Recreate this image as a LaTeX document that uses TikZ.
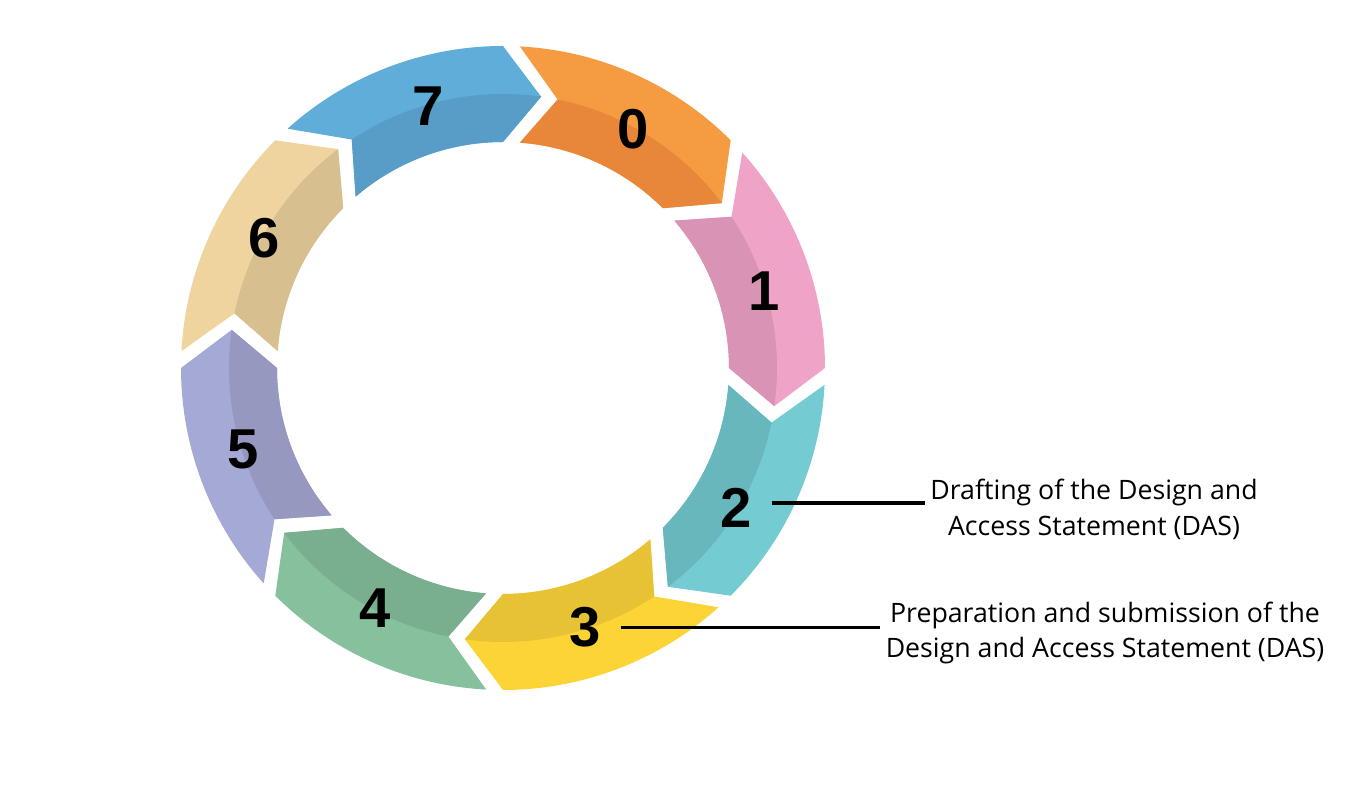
\documentclass[tikz,border=0pt]{standalone}
\usepackage{fontspec}
\setmainfont{Open Sans}
\newfontfamily\numfont{Liberation Sans}
\begin{document}
\begin{tikzpicture}[line cap=round,line join=round,
  numlab/.style={font=\numfont\bfseries\fontsize{16}{18}\selectfont,inner sep=0.2cm},
  notelab/.style={font=\fontsize{7.6}{10.2}\selectfont,align=center,inner sep=0.05cm},
  leader/.style={black,line width=1pt,line cap=butt}]
  \definecolor{s0l}{RGB}{245,156,66}  \definecolor{s0d}{RGB}{232,135,58}
  \definecolor{s1l}{RGB}{238,163,199} \definecolor{s1d}{RGB}{217,147,180}
  \definecolor{s2l}{RGB}{116,203,210} \definecolor{s2d}{RGB}{103,183,189}
  \definecolor{s3l}{RGB}{253,212,54}  \definecolor{s3d}{RGB}{232,194,53}
  \definecolor{s4l}{RGB}{134,192,157} \definecolor{s4d}{RGB}{121,174,142}
  \definecolor{s5l}{RGB}{164,169,213} \definecolor{s5d}{RGB}{150,152,192}
  \definecolor{s6l}{RGB}{239,212,160} \definecolor{s6d}{RGB}{216,191,143}
  \definecolor{s7l}{RGB}{96,173,217}  \definecolor{s7d}{RGB}{87,157,200}

  \useasboundingbox (0,0) rectangle (13.7,7.88);

  % ---- ring of eight arrow segments ----
  \begin{scope}[shift={(5.03,4.20)}]
    \def\ri{2.26} \def\rm{2.74} \def\ro{3.22}
    \foreach \k/\na in {0/61.5,1/16.5,2/-31,3/-72.5,4/-118,5/-162.5,6/151.5,7/106} {
      \pgfmathsetmacro{\a}{90-45*\k}
      \pgfmathsetmacro{\b}{45-45*\k}
      % outer (light) part
      \fill[s\k l] (\a-3:\ro) arc[start angle=\a-3,end angle=\b,radius=\ro]
        -- (\b-8:\rm) -- (\b:\ri) arc[start angle=\b,end angle=\a-4.3,radius=\ri]
        -- (\a-11.5:\rm) -- cycle;
      % inner (dark) band
      \fill[s\k d] (\a-11.5:\rm) arc[start angle=\a-11.5,end angle=\b-8,radius=\rm]
        -- (\b:\ri) arc[start angle=\b,end angle=\a-4.3,radius=\ri] -- cycle;
      \node[numlab] (n\k) at (\na:2.72) {\k};
    }
  \end{scope}

  % ---- notes ----
  \node[notelab] (t2) at (10.94,2.79) {Drafting of the Design and\\Access Statement (DAS)};
  \node[notelab] (t3) at (11.05,1.55) {Preparation and submission of the\\Design and Access Statement (DAS)};
  \draw[leader] ([yshift=0.05cm]n2.east) -- ([yshift=0.05cm]n2.east -| t2.west);
  \draw[leader] (n3.east) -- (n3.east -| t3.west);
\end{tikzpicture}
\end{document}
